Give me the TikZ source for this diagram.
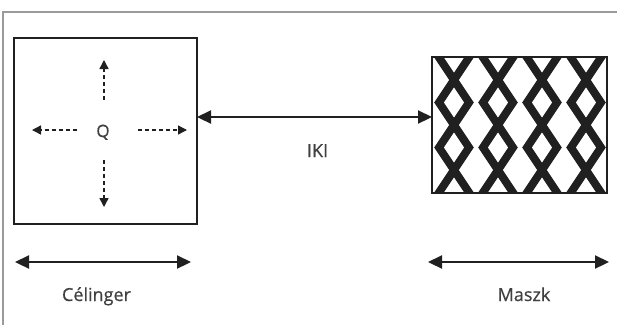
\documentclass[tikz,border=0pt]{standalone}
\usepackage{fontspec}
\setmainfont[FakeBold=0.5,BoldFont={Open Sans}]{Open Sans}
\usetikzlibrary{arrows.meta}
\definecolor{ink}{HTML}{202020}
\definecolor{txt}{HTML}{404040}
\definecolor{frame}{HTML}{9A9A9A}
\tikzset{
  boxstyle/.style={draw=ink, line width=2pt, inner sep=0pt, outer sep=0pt},
  bigarrow/.style={draw=ink, line width=2.2pt, {Triangle[length=14pt,width=13pt]}-{Triangle[length=14pt,width=13pt]}},
  dasharrow/.style={draw=ink, line width=1.4pt, dash pattern=on 4pt off 3pt, -{Triangle[length=9pt,width=9pt]}},
  lbl/.style={text=txt, font=\fontsize{18}{21}\selectfont, inner sep=0pt, anchor=base},
  qlbl/.style={lbl, font=\fontsize{17}{19}\selectfont},
  zig/.style={draw=ink, line width=8pt, line join=miter}
}
\begin{document}
\begin{tikzpicture}[x=1pt,y=-1pt]
\useasboundingbox (0,0) rectangle (617,325);
\fill[white] (0,0) rectangle (617,325);
% frame
\draw[frame, line width=1.5pt] (3,325) -- (3,12) -- (617,12);
% left square
\node[boxstyle, minimum width=183pt, minimum height=186pt] (cel) at (105.5,131) {};
\node[qlbl] (q) at (103,137) {Q};
\coordinate (qu1) at (104,100); \coordinate (qu2) at (104,60);
\coordinate (qd1) at (104,160); \coordinate (qd2) at (104,207);
\coordinate (ql1) at (77,130); \coordinate (ql2) at (32,130);
\coordinate (qr1) at (138,130); \coordinate (qr2) at (187,130);
\draw[dasharrow] (qu1) -- (qu2);
\draw[dasharrow] (qd1) -- (qd2);
\draw[dasharrow] (ql1) -- (ql2);
\draw[dasharrow] (qr1) -- (qr2);
% mask box
\node[boxstyle, minimum width=175pt, minimum height=136pt] (mask) at (519.5,125) {};
\begin{scope}
\clip (432,57) rectangle (607,193);
\foreach \c in {454,498,542,586} {
  \draw[zig] (\c+15,12.5) -- (\c-15,57.5) -- (\c+15,102.5) -- (\c-15,147.5) -- (\c+15,192.5) -- (\c-15,237.5);
  \draw[zig] (\c-15,12.5) -- (\c+15,57.5) -- (\c-15,102.5) -- (\c+15,147.5) -- (\c-15,192.5) -- (\c+15,237.5);
}
\end{scope}
\node[boxstyle, minimum width=175pt, minimum height=136pt] at (mask.center) {};
% IKI
\coordinate (ikiL) at (cel.east |- 0,117);
\coordinate (ikiR) at (mask.west |- 0,117);
\draw[bigarrow] (ikiL) -- (ikiR);
\node[lbl] (iki) at (317.5,157) {IKI};
% bottom arrows
\coordinate (a1) at (15,262); \coordinate (a2) at (191,262);
\coordinate (b1) at (428,262); \coordinate (b2) at (609,262);
\draw[bigarrow] (a1) -- (a2);
\draw[bigarrow] (b1) -- (b2);
\node[lbl] (celname) at (96.5,301) {Célinger};
\node[lbl] (maszk) at (524,301) {Maszk};
\end{tikzpicture}
\end{document}
